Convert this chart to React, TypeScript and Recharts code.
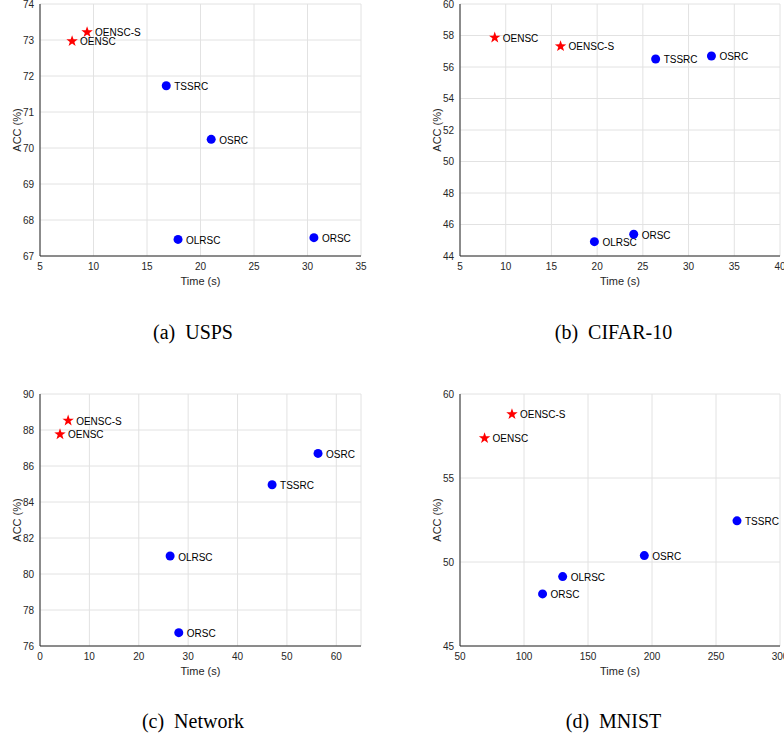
import { CartesianGrid, Scatter, ScatterChart, XAxis, YAxis } from "recharts";

const methods = ["OENSC", "OENSC-S", "TSSRC", "OSRC", "OLRSC", "ORSC"];
const ours = ["OENSC", "OENSC-S"];

const uspsTime = [8.0, 9.4, 16.8, 21.0, 17.9, 30.6];
const uspsAcc = [72.98, 73.23, 71.73, 70.24, 67.46, 67.51];

const cifarTime = [8.8, 16.0, 26.4, 32.5, 19.7, 24.0];
const cifarAcc = [57.9, 57.35, 56.51, 56.7, 44.91, 45.38];

const networkTime = [4.05, 5.7, 47.0, 56.3, 26.35, 28.1];
const networkAcc = [87.79, 88.55, 84.96, 86.7, 81.0, 76.74];

const mnistTime = [69.2, 90.6, 266.4, 194.0, 130.2, 114.5];
const mnistAcc = [57.4, 58.83, 52.45, 50.38, 49.13, 48.1];

const uspsXTicks = [5, 10, 15, 20, 25, 30, 35];
const uspsYTicks = [67, 68, 69, 70, 71, 72, 73, 74];
const cifarXTicks = [5, 10, 15, 20, 25, 30, 35, 40];
const cifarYTicks = [44, 46, 48, 50, 52, 54, 56, 58, 60];
const networkXTicks = [0, 10, 20, 30, 40, 50, 60];
const networkYTicks = [76, 78, 80, 82, 84, 86, 88, 90];
const mnistXTicks = [50, 100, 150, 200, 250, 300];
const mnistYTicks = [45, 50, 55, 60];

const captions = ["(a)  USPS", "(b)  CIFAR-10", "(c)  Network", "(d)  MNIST"];

const AXIS = "#262626";
const GRID = "#e2e2e2";
const SANS = "'Liberation Sans', Arial, sans-serif";

function buildRows(times: number[], accs: number[]) {
  return methods.map((name, i) => ({ name, time: times[i], acc: accs[i] }));
}

function starPoints(cx: number, cy: number, r: number) {
  const inner = r * 0.4;
  const pts: string[] = [];
  for (let i = 0; i < 10; i++) {
    const rad = i % 2 === 0 ? r : inner;
    const a = -Math.PI / 2 + (i * Math.PI) / 5;
    pts.push(`${cx + rad * Math.cos(a)},${cy + rad * Math.sin(a)}`);
  }
  return pts.join(" ");
}

function StarMark(props: any) {
  const { cx, cy, payload } = props;
  return (
    <g>
      <polygon points={starPoints(cx, cy + 0.5, 6)} fill="#ff0000" />
      <text x={cx + 8} y={cy + 1} dominantBaseline="central" fontSize={10} fontFamily={SANS} fill="#000">
        {payload.name}
      </text>
    </g>
  );
}

function DotMark(props: any) {
  const { cx, cy, payload } = props;
  return (
    <g>
      <circle cx={cx} cy={cy} r={4.5} fill="#0000ff" />
      <text x={cx + 8} y={cy + 1} dominantBaseline="central" fontSize={10} fontFamily={SANS} fill="#000">
        {payload.name}
      </text>
    </g>
  );
}

interface PanelProps {
  left: number;
  top: number;
  axisWidth: number;
  marginRight: number;
  titleX: number;
  times: number[];
  accs: number[];
  xDomain: [number, number];
  yDomain: [number, number];
  xTicks: number[];
  yTicks: number[];
}

function Panel({ left, top, axisWidth, marginRight, titleX, times, accs, xDomain, yDomain, xTicks, yTicks }: PanelProps) {
  const rows = buildRows(times, accs);
  const ourRows = rows.filter((r) => ours.includes(r.name));
  const otherRows = rows.filter((r) => !ours.includes(r.name));
  const tick = { fill: AXIS, fontSize: 10, fontFamily: SANS };

  return (
    <div style={{ position: "absolute", left, top }}>
      <ScatterChart width={392} height={300} margin={{ top: 4, right: marginRight, bottom: 0, left: 0 }}>
        <CartesianGrid stroke={GRID} />
        <XAxis
          type="number"
          dataKey="time"
          domain={xDomain}
          ticks={xTicks}
          interval={0}
          height={44}
          tickSize={0}
          tickMargin={7}
          tick={tick}
          axisLine={{ stroke: AXIS }}
          label={{
            content: ({ viewBox }: any) => (
              <text
                x={viewBox.x + viewBox.width / 2}
                y={viewBox.y + 29}
                textAnchor="middle"
                fontSize={11}
                fontFamily={SANS}
                fill={AXIS}
              >
                Time (s)
              </text>
            ),
          }}
        />
        <YAxis
          type="number"
          dataKey="acc"
          domain={yDomain}
          ticks={yTicks}
          interval={0}
          width={axisWidth}
          tickSize={0}
          tickMargin={6}
          tick={tick}
          axisLine={{ stroke: AXIS }}
          label={{
            content: ({ viewBox }: any) => {
              const cy = viewBox.y + viewBox.height / 2;
              return (
                <text
                  x={titleX}
                  y={cy}
                  transform={`rotate(-90, ${titleX}, ${cy})`}
                  textAnchor="middle"
                  dominantBaseline="central"
                  fontSize={11}
                  fontFamily={SANS}
                  fill={AXIS}
                >
                  ACC (%)
                </text>
              );
            },
          }}
        />
        <Scatter data={otherRows} shape={DotMark} isAnimationActive={false} />
        <Scatter data={ourRows} shape={StarMark} isAnimationActive={false} />
      </ScatterChart>
    </div>
  );
}

export default function App() {
  return (
    <div style={{ position: "absolute", left: 0, top: 0, width: 784, height: 738, background: "#fff", overflow: "hidden" }}>
      <Panel left={0} top={0} axisWidth={40} marginRight={31} titleX={16.5}
        times={uspsTime} accs={uspsAcc} xDomain={[5, 35]} yDomain={[67, 74]} xTicks={uspsXTicks} yTicks={uspsYTicks} />
      <Panel left={392} top={0} axisWidth={68} marginRight={4} titleX={44.5}
        times={cifarTime} accs={cifarAcc} xDomain={[5, 40]} yDomain={[44, 60]} xTicks={cifarXTicks} yTicks={cifarYTicks} />
      <Panel left={0} top={390} axisWidth={40} marginRight={31} titleX={16.5}
        times={networkTime} accs={networkAcc} xDomain={[0, 65]} yDomain={[76, 90]} xTicks={networkXTicks} yTicks={networkYTicks} />
      <Panel left={392} top={390} axisWidth={68} marginRight={4} titleX={44.5}
        times={mnistTime} accs={mnistAcc} xDomain={[50, 300]} yDomain={[45, 60]} xTicks={mnistXTicks} yTicks={mnistYTicks} />
      <svg width={784} height={738} style={{ position: "absolute", left: 0, top: 0, pointerEvents: "none" }}>
        {captions.map((c, i) => (
          <text
            key={c}
            x={i % 2 === 0 ? 193 : 613.5}
            y={i < 2 ? 338.5 : 728.3}
            textAnchor="middle"
            fontSize={20}
            fontFamily="'Liberation Serif', 'Times New Roman', serif"
            fill="#000"
            xmlSpace="preserve"
            style={{ whiteSpace: "pre" }}
          >
            {c}
          </text>
        ))}
      </svg>
    </div>
  );
}
